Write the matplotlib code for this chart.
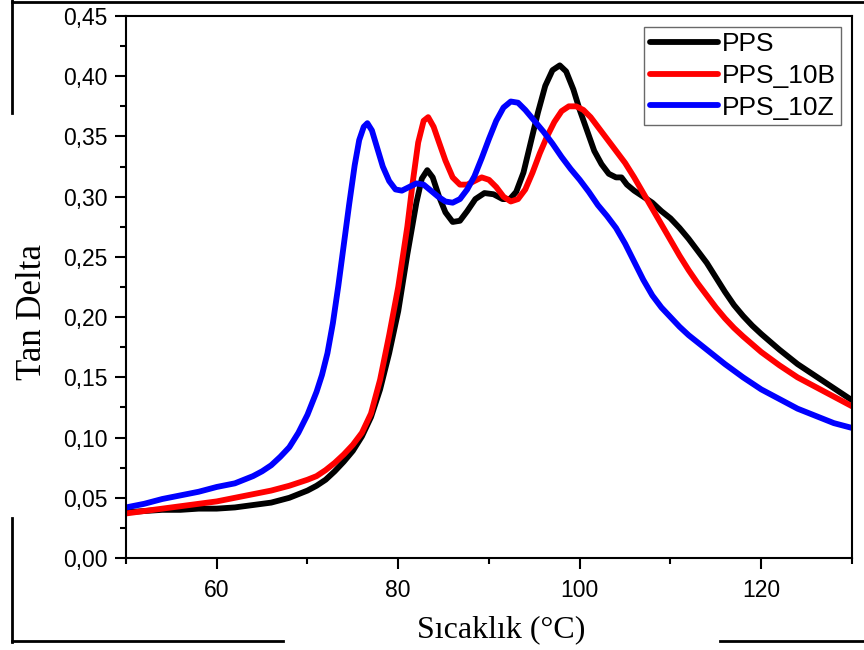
import matplotlib
matplotlib.use("Agg")
import matplotlib.pyplot as plt
from matplotlib.lines import Line2D
from matplotlib.ticker import FuncFormatter, MultipleLocator

# Tan delta vs temperature (DMA)
temp_pps = [50, 52, 54, 56, 58, 60, 62, 64, 66, 68, 70, 71, 72, 73, 74, 75, 76, 77, 78, 79,
            80, 81, 82, 82.6, 83.2, 83.8, 84.5, 85.2, 86, 86.8, 87.6, 88.5, 89.5, 90.5, 91.5,
            92.3, 93, 93.8, 94.6, 95.4, 96.2, 97, 97.8, 98.5, 99.3, 100, 100.8, 101.6, 102.4,
            103.2, 104, 104.6, 105.2, 106, 107, 108, 109, 110, 111, 112, 113, 114, 115, 116,
            117, 118, 119, 120, 122, 124, 126, 128, 130]
tan_pps = [0.038, 0.039, 0.040, 0.040, 0.041, 0.041, 0.042, 0.044, 0.046, 0.050, 0.056, 0.060,
           0.065, 0.072, 0.080, 0.089, 0.101, 0.117, 0.140, 0.170, 0.205, 0.252, 0.295, 0.315,
           0.322, 0.316, 0.300, 0.287, 0.279, 0.280, 0.288, 0.298, 0.303, 0.302, 0.298, 0.298,
           0.304, 0.320, 0.345, 0.370, 0.392, 0.405, 0.409, 0.404, 0.389, 0.372, 0.355, 0.338,
           0.327, 0.319, 0.316, 0.316, 0.310, 0.305, 0.300, 0.295, 0.288, 0.282, 0.274, 0.265,
           0.255, 0.245, 0.233, 0.221, 0.210, 0.201, 0.193, 0.186, 0.173, 0.161, 0.151, 0.141,
           0.131]

temp_10b = [50, 52, 54, 56, 58, 60, 62, 64, 66, 68, 70, 71, 72, 73, 74, 75, 76, 77, 78, 79,
            80, 81, 81.6, 82.2, 82.8, 83.3, 83.9, 84.5, 85.2, 86, 86.8, 87.6, 88.4, 89.2, 90,
            90.8, 91.6, 92.4, 93.2, 94, 94.8, 95.6, 96.4, 97.2, 98, 98.8, 99.6, 100.4, 101.2,
            102, 103, 104, 105, 106, 107, 108, 109, 110, 111, 112, 113, 114, 115, 116, 117,
            118, 120, 122, 124, 126, 128, 130]
tan_10b = [0.037, 0.039, 0.041, 0.043, 0.045, 0.047, 0.050, 0.053, 0.056, 0.060, 0.065, 0.068,
           0.073, 0.079, 0.086, 0.094, 0.104, 0.120, 0.148, 0.185, 0.225, 0.275, 0.312, 0.345,
           0.363, 0.366, 0.358, 0.345, 0.330, 0.316, 0.310, 0.310, 0.313, 0.316, 0.314, 0.308,
           0.300, 0.296, 0.298, 0.306, 0.320, 0.336, 0.350, 0.362, 0.371, 0.375, 0.375, 0.372,
           0.366, 0.358, 0.348, 0.338, 0.328, 0.316, 0.303, 0.290, 0.277, 0.264, 0.251, 0.239,
           0.228, 0.218, 0.208, 0.199, 0.191, 0.184, 0.171, 0.160, 0.150, 0.142, 0.134, 0.126]

temp_10z = [50, 52, 54, 56, 58, 60, 62, 64, 65, 66, 67, 68, 69, 70, 71, 71.6, 72.2, 72.8,
            73.4, 74, 74.6, 75.2, 75.7, 76.2, 76.6, 77.1, 77.7, 78.3, 79, 79.7, 80.4, 81.2, 82,
            82.8, 83.6, 84.4, 85.2, 86, 86.8, 87.6, 88.4, 89.2, 90, 90.8, 91.6, 92.4, 93.2, 94,
            95, 96, 97, 98, 99, 100, 101, 102, 103, 104, 105, 106, 107, 108, 109, 110, 111, 112,
            113, 114, 115, 116, 118, 120, 122, 124, 126, 128, 130]
tan_10z = [0.042, 0.045, 0.049, 0.052, 0.055, 0.059, 0.062, 0.068, 0.072, 0.077, 0.084, 0.092,
           0.104, 0.119, 0.138, 0.152, 0.170, 0.195, 0.226, 0.260, 0.294, 0.326, 0.347, 0.358,
           0.361, 0.355, 0.340, 0.325, 0.313, 0.306, 0.305, 0.308, 0.311, 0.310, 0.305, 0.300,
           0.296, 0.295, 0.298, 0.306, 0.317, 0.332, 0.348, 0.363, 0.374, 0.379, 0.378, 0.372,
           0.363, 0.354, 0.344, 0.333, 0.323, 0.314, 0.304, 0.293, 0.284, 0.274, 0.261, 0.246,
           0.231, 0.218, 0.208, 0.200, 0.192, 0.185, 0.179, 0.173, 0.167, 0.161, 0.150, 0.140,
           0.132, 0.124, 0.118, 0.112, 0.108]

series = [
    ("PPS", temp_pps, tan_pps, "black"),
    ("PPS_10B", temp_10b, tan_10b, "#ff0000"),
    ("PPS_10Z", temp_10z, tan_10z, "#0000ff"),
]

plt.rcParams['font.family'] = ['Liberation Sans', 'DejaVu Sans']

fig = plt.figure(figsize=(8.64, 6.5), dpi=100)
ax = fig.add_axes([0.1458, 0.1415, 0.8403, 0.8339])

for name, t, v, c in series:
    ax.plot(t, v, color=c, lw=4.2, label=name, solid_capstyle='round', solid_joinstyle='round')

ax.set_xlim(50, 130)
ax.set_ylim(0, 0.45)
ax.xaxis.set_major_locator(MultipleLocator(20))
ax.xaxis.set_minor_locator(MultipleLocator(10))
ax.yaxis.set_major_locator(MultipleLocator(0.05))
ax.yaxis.set_minor_locator(MultipleLocator(0.025))
ax.yaxis.set_major_formatter(FuncFormatter(lambda v, p: f"{v:.2f}".replace(".", ",")))
ax.xaxis.set_major_formatter(FuncFormatter(lambda v, p: f"{v:.0f}"))

ax.tick_params(which='both', direction='out', width=1.5, top=False, right=False,
               labelsize=16.5)
ax.tick_params(which='major', length=8)
ax.tick_params(which='minor', length=4.5)
ax.tick_params(axis='y', pad=5)
ax.tick_params(axis='x', pad=7)
for sp in ax.spines.values():
    sp.set_linewidth(1.5)

ax.set_xlabel("Sıcaklık (°C)", family=['Liberation Serif'], fontsize=23, labelpad=5)
ax.set_ylabel("Tan Delta", family=['Liberation Serif'], fontsize=25, labelpad=8)
ax.xaxis.set_label_coords(0.5165, -0.105)
ax.yaxis.set_label_coords(-0.106, 0.454)

leg = ax.legend(loc='upper right', fontsize=19, frameon=True, fancybox=False,
                edgecolor='#444444', handlelength=2.6, handletextpad=0.15,
                borderpad=0.2, labelspacing=0.3, borderaxespad=0.4)
leg.get_frame().set_linewidth(1.0)

# outer frame, partly broken
W, H = 864.0, 650.0
frame = [
    ((12, 864), (1.5, 1.5)),
    ((12, 12), (0, 113)),
    ((12, 12), (518, 642)),
    ((12, 283), (641, 641)),
    ((720, 864), (641, 641)),
]
for xs, ys in frame:
    fig.add_artist(Line2D([x / W for x in xs], [1 - y / H for y in ys],
                          transform=fig.transFigure, color='black', lw=2.0))

fig.savefig("out.png", dpi=100)
